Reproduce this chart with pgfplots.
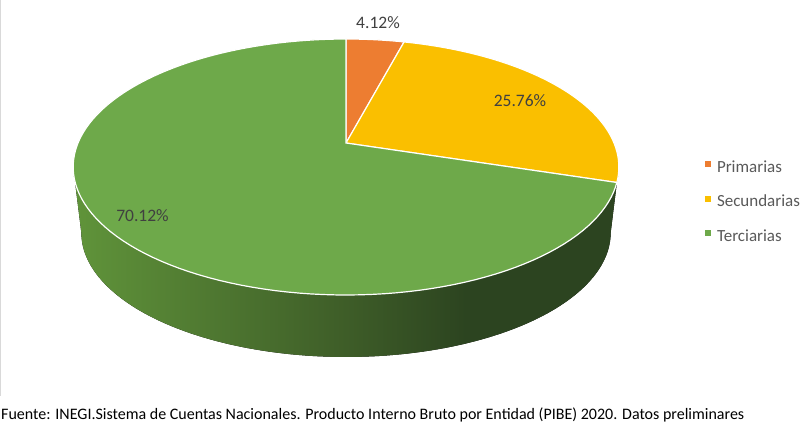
\documentclass[border=0pt]{standalone}
\usepackage{pgfplots}
\pgfplotsset{compat=1.18}
\usepgfplotslibrary{fillbetween}
\usepackage{fontspec}
\setmainfont{Carlito}
\definecolor{cPri}{HTML}{ED7D31}
\definecolor{cSec}{HTML}{FABF00}
\definecolor{cTer}{HTML}{6EA94A}
\definecolor{wallL}{HTML}{60943A}
\definecolor{wallM}{HTML}{3E5D28}
\definecolor{wallR}{HTML}{2C4420}
\definecolor{lbl}{HTML}{404040}
\definecolor{leg}{HTML}{595959}
\pgfdeclarehorizontalshading{wallshade}{100bp}{color(0bp)=(wallL); color(25bp)=(wallL); color(50bp)=(wallM); color(61bp)=(wallR); color(100bp)=(wallR)}
% shares in percent
\def\pPri{4.12}
\def\pSec{25.76}
\def\pTer{70.12}
\begin{document}
\begin{tikzpicture}
\pgfmathsetmacro{\aA}{90}
\pgfmathsetmacro{\aB}{90-3.6*\pPri}
\pgfmathsetmacro{\aC}{\aB-3.6*\pSec}
\pgfmathsetmacro{\aD}{\aC-3.6*\pTer}
\begin{axis}[
  scale only axis, width=808pt, height=437pt,
  xmin=0, xmax=808, ymin=0, ymax=437,
  hide axis, clip=false,
  samples=120,
  legend style={draw=none, fill=none, inner sep=0pt, outer sep=0pt,
    font=\fontsize{17}{20}\selectfont\color{leg},
    at={(axis cs:705,277)}, anchor=north west, row sep=18.5pt,
    nodes={inner sep=0pt, text height=12pt, text depth=4pt},
    cells={anchor=west},
    /tikz/every odd column/.append style={column sep=6pt}},
  legend image code/.code={\fill[#1,draw=none] (0pt,1pt) rectangle (6pt,7pt);},
]
% side wall
\addplot[name path=topr, draw=none, domain=190.8:349.2, forget plot]
  ({346+268*cos(x)/(1+0.1875*sin(x))},{294+123.5*sin(x)/(1+0.1875*sin(x))});
\addplot[name path=botr, draw=none, domain=190.8:349.2, forget plot]
  ({346+260*cos(x)/(1+0.1875*sin(x))},{227.7+120*sin(x)/(1+0.1875*sin(x))});
\addplot[shading=wallshade, draw=none, forget plot]
  fill between[of=topr and botr];
% top face
\addplot[fill=cPri, draw=white, line width=1.2pt, domain=\aB:\aA]
  ({346+268*cos(x)/(1+0.1875*sin(x))},{294+123.5*sin(x)/(1+0.1875*sin(x))}) -- (axis cs:346,294) -- cycle;
\addplot[fill=cSec, draw=white, line width=1.2pt, domain=\aC:\aB]
  ({346+268*cos(x)/(1+0.1875*sin(x))},{294+123.5*sin(x)/(1+0.1875*sin(x))}) -- (axis cs:346,294) -- cycle;
\addplot[fill=cTer, draw=white, line width=1.2pt, domain=\aD:\aC]
  ({346+268*cos(x)/(1+0.1875*sin(x))},{294+123.5*sin(x)/(1+0.1875*sin(x))}) -- (axis cs:346,294) -- cycle;
\legend{Primarias, Secundarias, Terciarias}
% data labels
\node[lbl, anchor=base, font=\fontsize{17.5}{20}\selectfont, inner sep=0pt] at (axis cs:378,408) {\pPri\%};
\node[lbl, anchor=base, font=\fontsize{17.5}{20}\selectfont, inner sep=0pt] at (axis cs:520,330) {\pSec\%};
\node[lbl, anchor=base, font=\fontsize{17.5}{20}\selectfont, inner sep=0pt] at (axis cs:142.5,215) {\pTer\%};
% source note
\node[anchor=base west, font=\fontsize{16}{18}\selectfont, inner sep=0pt] at (axis cs:1,18)
  {Fuente: INEGI.Sistema de Cuentas Nacionales. Producto Interno Bruto por Entidad (PIBE) 2020. Datos preliminares};
\draw[draw=black!15, line width=1pt] (axis cs:0.5,437) -- (axis cs:0.5,41);
\end{axis}
\pgfresetboundingbox
\useasboundingbox (current axis.south west) rectangle (current axis.north east);
\end{tikzpicture}
\end{document}
